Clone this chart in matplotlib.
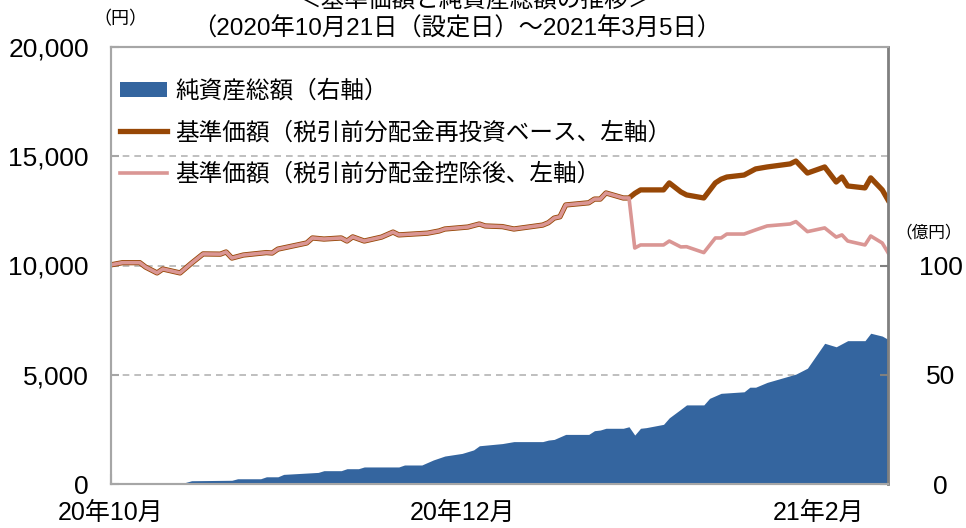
import numpy as np
import pandas as pd
import matplotlib
matplotlib.use("Agg")
import matplotlib.pyplot as plt
from matplotlib.patches import Patch
from matplotlib.lines import Line2D

plt.rcParams["font.family"] = ["Liberation Sans", "Noto Sans CJK JP"]

# 基準価額 (円)
line_dates = [
    "2020-10-21", "2020-10-23", "2020-10-26", "2020-10-27", "2020-10-29", "2020-10-30",
    "2020-11-02", "2020-11-04", "2020-11-06", "2020-11-09", "2020-11-10", "2020-11-11",
    "2020-11-13", "2020-11-17", "2020-11-18", "2020-11-19", "2020-11-24", "2020-11-25",
    "2020-11-27", "2020-11-30",
    "2020-12-01", "2020-12-02", "2020-12-04", "2020-12-07", "2020-12-09", "2020-12-10",
    "2020-12-15", "2020-12-17", "2020-12-18", "2020-12-22", "2020-12-24", "2020-12-25",
    "2020-12-28", "2020-12-30",
    "2021-01-04", "2021-01-05", "2021-01-06", "2021-01-07", "2021-01-08", "2021-01-12",
    "2021-01-13", "2021-01-14", "2021-01-15", "2021-01-18", "2021-01-19", "2021-01-20",
    "2021-01-21", "2021-01-25", "2021-01-26", "2021-01-28", "2021-01-29",
    "2021-02-01", "2021-02-03", "2021-02-04", "2021-02-05", "2021-02-08", "2021-02-10",
    "2021-02-12", "2021-02-16", "2021-02-17", "2021-02-19", "2021-02-22", "2021-02-24",
    "2021-02-25", "2021-02-26",
    "2021-03-01", "2021-03-02", "2021-03-04", "2021-03-05",
]
nav_reinvest = [
    10030, 10130, 10130, 9930, 9660, 9840,
    9660, 10110, 10530, 10520, 10620, 10340, 10480, 10590, 10570, 10750, 11030, 11260, 11210, 11260,
    11120, 11310, 11120, 11300, 11530, 11400, 11480, 11580, 11670, 11760, 11900, 11810, 11780, 11670,
    11850, 11960, 12170, 12230, 12770, 12870, 13040, 13040, 13320, 13090, 13090, 13300, 13460, 13460,
    13780, 13370, 13230,
    13090, 13780, 13950, 14050, 14140, 14420, 14510, 14650, 14780, 14230, 14510, 13820, 14050, 13640,
    13550, 14010, 13460, 13000,
]
nav_after_dist = [
    10030, 10130, 10130, 9930, 9660, 9840,
    9660, 10110, 10530, 10520, 10620, 10340, 10480, 10590, 10570, 10750, 11030, 11260, 11210, 11260,
    11120, 11310, 11120, 11300, 11530, 11400, 11480, 11580, 11670, 11760, 11900, 11810, 11780, 11670,
    11850, 11960, 12170, 12230, 12770, 12870, 13040, 13040, 13320, 13090, 13090, 10800, 10940, 10940,
    11120, 10850, 10860,
    10590, 11260, 11260, 11440, 11440, 11630, 11810, 11900, 12010, 11550, 11720, 11300, 11400, 11120,
    10940, 11350, 11030, 10590,
]

# 純資産総額 (億円)
asset_dates = [
    "2020-10-21", "2020-11-02", "2020-11-04", "2020-11-11", "2020-11-12", "2020-11-16",
    "2020-11-17", "2020-11-19", "2020-11-20", "2020-11-26", "2020-11-27", "2020-11-30",
    "2020-12-01", "2020-12-03", "2020-12-04", "2020-12-10", "2020-12-11", "2020-12-14",
    "2020-12-16", "2020-12-18", "2020-12-21", "2020-12-23", "2020-12-24", "2020-12-28",
    "2020-12-30",
    "2021-01-04", "2021-01-05", "2021-01-06", "2021-01-08", "2021-01-12", "2021-01-13",
    "2021-01-14", "2021-01-15", "2021-01-18", "2021-01-19", "2021-01-20", "2021-01-21",
    "2021-01-22", "2021-01-25", "2021-01-26", "2021-01-28", "2021-01-29",
    "2021-02-01", "2021-02-02", "2021-02-04", "2021-02-08", "2021-02-09", "2021-02-10",
    "2021-02-12", "2021-02-17", "2021-02-19", "2021-02-22", "2021-02-24", "2021-02-26",
    "2021-03-01", "2021-03-02", "2021-03-04", "2021-03-05",
]
net_assets = [
    0, 0, 1.5, 1.7, 2.4, 2.4, 3.3, 3.3, 4.4, 5.3, 6.1, 6.1,
    7.0, 7.0, 7.8, 7.8, 8.7, 8.7, 11.0, 12.8, 14.0, 15.6, 17.5, 18.5, 19.4,
    19.4, 20.1, 20.4, 22.7, 22.7, 24.4, 24.7, 25.5, 25.5, 26.2, 22.4, 25.5, 25.8, 27.3, 30.3, 34.2, 36.2,
    36.2, 39.2, 41.5, 42.2, 44.3, 44.3, 46.5, 50.3, 53.0, 64.4, 62.8, 65.6,
    65.6, 69.0, 67.7, 66.2,
]

x_tick_dates = ["2020-10-21", "2020-12-21", "2021-02-21"]
x_tick_labels = ["20年10月", "20年12月", "21年2月"]
left_ticks = [0, 5000, 10000, 15000, 20000]
right_ticks = [0, 50, 100]

BLUE = "#34659F"
BROWN = "#974706"
PINK = "#DA9694"
GRID = "#B4B4B4"
SPINE = "#A6A6A6"

fig = plt.figure(figsize=(9.66, 5.28), dpi=100, facecolor="white")
ax = fig.add_axes([111 / 966, 44 / 528, 777 / 966, 437 / 528])
ax2 = ax.twinx()

ld = pd.to_datetime(line_dates)
ad = pd.to_datetime(asset_dates)

ax2.fill_between(ad, 0, net_assets, color=BLUE, linewidth=0)
ax.plot(ld, nav_reinvest, color=BROWN, linewidth=3.8, solid_joinstyle="round", zorder=3)
ax.plot(ld, nav_after_dist, color=PINK, linewidth=2.6, solid_joinstyle="round", zorder=4)

ax.set_xlim(pd.Timestamp("2020-10-21"), pd.Timestamp("2021-03-05"))
ax.set_ylim(0, 20000)
ax2.set_ylim(0, 200)

for v in left_ticks[1:-1]:
    ax.axhline(v, color=GRID, linestyle=(0, (4, 3)), linewidth=1.2, zorder=0)

ax.set_yticks(left_ticks)
ax.set_yticklabels([f"{v:,}" for v in left_ticks])
ax2.set_yticks(right_ticks)
ax2.set_yticklabels([str(v) for v in right_ticks])
ax.set_xticks(pd.to_datetime(x_tick_dates))
ax.set_xticklabels(x_tick_labels)

ax.tick_params(axis="y", direction="in", length=6, color=SPINE, width=1.5, labelsize=19, pad=16)
ax.tick_params(axis="x", direction="in", length=7, color=SPINE, width=1.5, labelsize=18, pad=12)
ax2.tick_params(axis="y", direction="in", length=6, color="#808080", width=1.5, labelsize=19, pad=38)
for lbl in ax2.get_yticklabels():
    lbl.set_horizontalalignment("center")

for s in ["left", "bottom", "top"]:
    ax.spines[s].set_color(SPINE)
    ax.spines[s].set_linewidth(1.5)
    ax2.spines[s].set_color(SPINE)
    ax2.spines[s].set_linewidth(1.5)
ax2.spines["right"].set_color("#808080")
ax2.spines["right"].set_linewidth(2)

handles = [
    Patch(facecolor=BLUE, edgecolor="none"),
    Line2D([], [], color=BROWN, linewidth=3.8),
    Line2D([], [], color=PINK, linewidth=2.6),
]
labels = [
    "純資産総額（右軸）",
    "基準価額（税引前分配金再投資ベース、左軸）",
    "基準価額（税引前分配金控除後、左軸）",
]
ax2.legend(handles, labels, loc="upper left", bbox_to_anchor=(120 / 966, 1 - 80 / 528),
           bbox_transform=fig.transFigure, frameon=False, fontsize=17,
           handlelength=2.0, handleheight=0.6, handletextpad=0.35, labelspacing=0.8, borderpad=0,
           borderaxespad=0)

# title line sits partly above the image edge, as in the source
fig.text(475 / 966, 1.0, "＜基準価額と純資産総額の推移＞", ha="center", va="center", fontsize=17)
fig.text(457 / 966, 1 - 29 / 528, "（2020年10月21日（設定日）～2021年3月5日）",
         ha="center", va="center", fontsize=17.5)
fig.text(120 / 966, 1 - 20 / 528, "（円）", ha="center", va="center", fontsize=13)
fig.text(929 / 966, 1 - 232 / 528, "（億円）", ha="center", va="center", fontsize=12)

fig.savefig("out.png", dpi=100, facecolor="white")
